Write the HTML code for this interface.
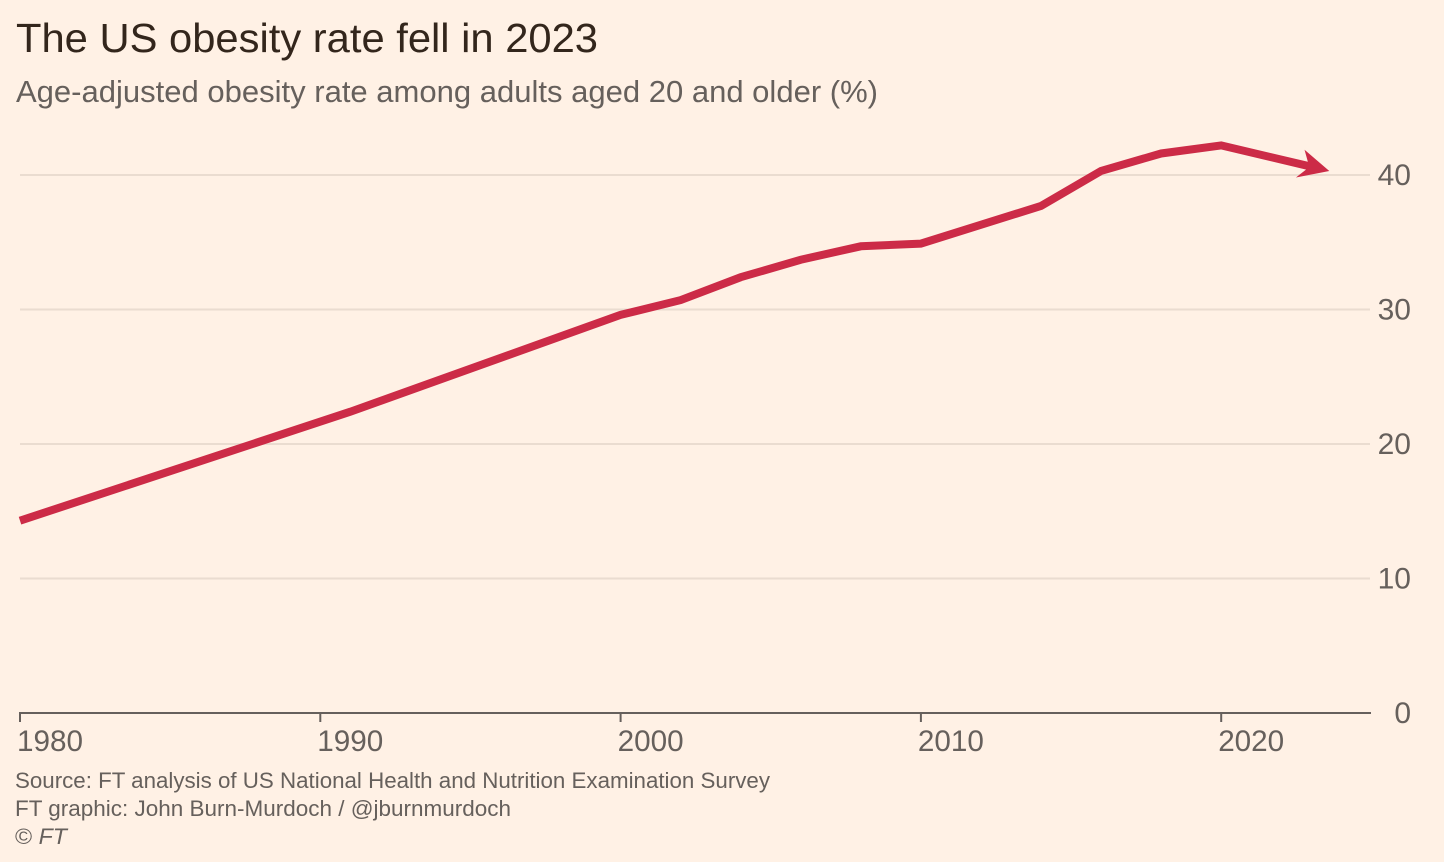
<!DOCTYPE html>
<html lang="en">
<head>
<meta charset="utf-8">
<title>The US obesity rate fell in 2023</title>
<style>
html,body{margin:0;padding:0;background:#fff1e5;}
svg{display:block;font-family:"Liberation Sans",sans-serif;}
</style>
</head>
<body>
<svg id="chart" xmlns="http://www.w3.org/2000/svg" width="1444" height="862" viewBox="0 0 1444 862">
  <rect x="0" y="0" width="1444" height="862" fill="#fff1e5"/>
  <text x="16" y="52" font-size="41" fill="#33261c" textLength="582" lengthAdjust="spacingAndGlyphs">The US obesity rate fell in 2023</text>
  <text x="16" y="102" font-size="31" fill="#66605c" textLength="862" lengthAdjust="spacingAndGlyphs">Age-adjusted obesity rate among adults aged 20 and older (%)</text>
  <g id="grid"></g>
  <g id="yaxis"></g>
  <g id="xaxis"></g>
  <g id="series"></g>
  <text x="15" y="788" font-size="22.5" fill="#66605c" textLength="755" lengthAdjust="spacingAndGlyphs">Source: FT analysis of US National Health and Nutrition Examination Survey</text>
  <text x="15" y="816" font-size="22.5" fill="#66605c" textLength="496" lengthAdjust="spacingAndGlyphs">FT graphic: John Burn-Murdoch / @jburnmurdoch</text>
  <text x="15" y="844" font-size="22.5" fill="#66605c" textLength="52" lengthAdjust="spacingAndGlyphs">© <tspan font-style="italic">FT</tspan></text>
</svg>
<script>
const years = [1980, 1991, 2000, 2002, 2004, 2006, 2008, 2010, 2014, 2016, 2018, 2020, 2023.6];
const obesityRates = [14.3, 22.4, 29.6, 30.7, 32.4, 33.7, 34.7, 34.9, 37.7, 40.3, 41.6, 42.2, 40.3];
const yTickValues = [0, 10, 20, 30, 40];
const xTickValues = [1980, 1990, 2000, 2010, 2020];

const NS = 'http://www.w3.org/2000/svg';
function xScale(year) { return 20 + (year - 1980) * 30.03; }
function yScale(value) { return 713 - value * 13.45; }
function make(tag, attrs, parent) {
  const el = document.createElementNS(NS, tag);
  for (const key in attrs) el.setAttribute(key, attrs[key]);
  parent.appendChild(el);
  return el;
}

const grid = document.getElementById('grid');
const yAxis = document.getElementById('yaxis');
const xAxis = document.getElementById('xaxis');
const series = document.getElementById('series');

yTickValues.forEach(function (tick) {
  if (tick !== 0) {
    const gridLine = make('line', { x1: 20, x2: 1370, y1: yScale(tick), y2: yScale(tick), stroke: '#eadcd0', 'stroke-width': 2 }, grid);
    
    
  }
  const label = make('text', { x: 1411, y: yScale(tick) + 10, 'font-size': 30, fill: '#66605c', 'text-anchor': 'end' }, yAxis);
  label.textContent = String(tick);
  
  
});

const baseline = make('line', { x1: 19, x2: 1371, y1: yScale(0), y2: yScale(0), stroke: '#66605c', 'stroke-width': 2 }, xAxis);



xTickValues.forEach(function (tick) {
  const x = xScale(tick);
  const tickMark = make('line', { x1: x, x2: x, y1: 713, y2: 722, stroke: '#66605c', 'stroke-width': 2 }, xAxis);
  
  
  const label = make('text', { x: x - 3, y: 751, 'font-size': 30, fill: '#66605c', textLength: 66, lengthAdjust: 'spacingAndGlyphs' }, xAxis);
  label.textContent = String(tick);
  
  
});

const pts = years.map(function (year, i) { return [xScale(year), yScale(obesityRates[i])]; });
const tip = pts[pts.length - 1];
const prev = pts[pts.length - 2];
const angle = Math.atan2(tip[1] - prev[1], tip[0] - prev[0]);
function offset(along, across) {
  return [
    tip[0] + along * Math.cos(angle) - across * Math.sin(angle),
    tip[1] + along * Math.sin(angle) + across * Math.cos(angle)
  ];
}

const linePts = pts.slice(0, -1).concat([offset(-12, 0)]);
const rateLine = make('polyline', {
  points: linePts.map(function (p) { return p.join(','); }).join(' '),
  fill: 'none', stroke: '#cc2b47', 'stroke-width': 8, 'stroke-linejoin': 'miter', 'stroke-linecap': 'butt'
}, series);



const headPts = [offset(0, 0), offset(-29, -15), offset(-23, -4), offset(-23, 4), offset(-31, 14)];
const arrowHead = make('polygon', {
  points: headPts.map(function (p) { return p.join(','); }).join(' '),
  fill: '#cc2b47'
}, series);


</script>
</body>
</html>
